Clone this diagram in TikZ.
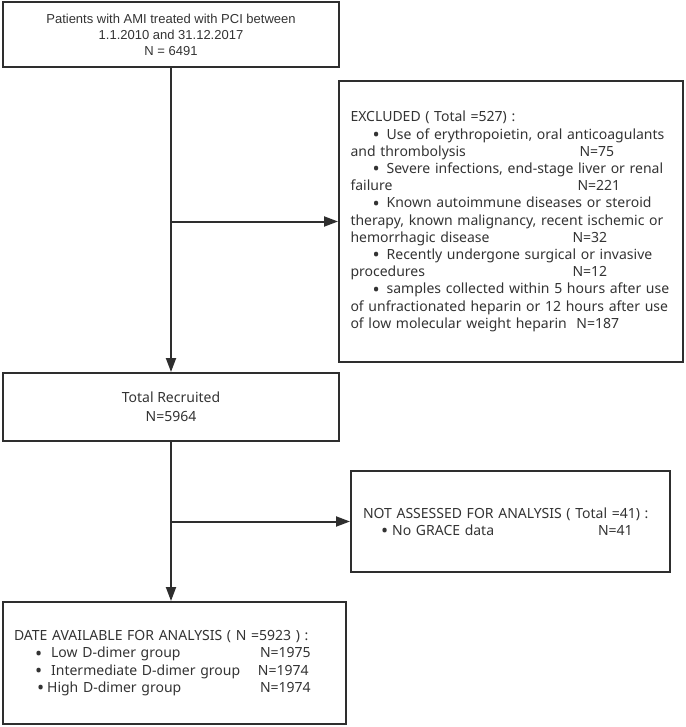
\documentclass[tikz,border=0pt]{standalone}
\usepackage{fontspec}
\setmainfont{Liberation Sans}
\newfontfamily\yahei{Noto Sans}
\usepackage{xcolor}
\usetikzlibrary{arrows.meta}
\definecolor{linegray}{HTML}{2E2E2E}
\definecolor{textgray}{HTML}{333333}
\tikzset{
  ar/.style={-{Triangle[length=14pt,width=10pt]},line width=2pt,linegray},
  box/.style={draw=linegray,line width=2pt,inner sep=0pt,text=textgray},
  listbox/.style={box,align=left,font=\yahei\fontsize{14}{17.2}\selectfont}
}
% item line: indent, gap after the bullet, label
\newcommand{\itm}[3]{\hspace*{#1pt}\raisebox{-2.4pt}[0pt][0pt]{\fontsize{19}{17}\selectfont\textbullet}\hspace{#2pt}#3}
% fixed column for the count
\newcommand{\cnt}[3]{\makebox[#1pt][l]{#2}#3}

\begin{document}
\begin{tikzpicture}[x=1pt,y=-1pt]
\useasboundingbox (0,0) rectangle (685,727);
\node[box,minimum width=336pt,minimum height=65pt,align=center,
  font=\fontsize{13}{16}\selectfont] (patients) at (171,34.5)
  {Patients with AMI treated with PCI between\\1.1.2010 and 31.12.2017\\N = 6491};
\node[listbox,minimum width=344pt,minimum height=281pt,text width=321pt] (excluded) at (511,221.5)
  {EXCLUDED ( Total =527) :\\
   \itm{22}{7}{Use of erythropoietin, oral anticoagulants}\\
   \cnt{229}{and thrombolysis}{N=75}\\
   \itm{22}{7}{Severe infections, end-stage liver or renal}\\
   \cnt{227}{failure}{N=221}\\
   \itm{22}{7}{Known autoimmune diseases or steroid}\\
   therapy, known malignancy, recent ischemic or\\
   \cnt{222}{hemorrhagic disease}{N=32}\\
   \itm{22}{7}{Recently undergone surgical or invasive}\\
   \cnt{222}{procedures}{N=12}\\
   \itm{22}{7}{samples collected within 5 hours after use}\\
   of unfractionated heparin or 12 hours after use\\
   \cnt{226}{of low molecular weight heparin}{N=187}};
\node[box,minimum width=336pt,minimum height=68pt,align=center,
  font=\yahei\fontsize{14}{19}\selectfont] (recruited) at (171,407)
  {Total Recruited\\N=5964};
\node[listbox,minimum width=319pt,minimum height=101pt,text width=295pt] (notassessed) at (510.5,521.5)
  {NOT ASSESSED FOR ANALYSIS ( Total =41) :\\
   \cnt{235}{\itm{18}{4}{No GRACE data}}{N=41}};
\node[listbox,minimum width=343pt,minimum height=122pt,text width=321pt] (available) at (174.5,663)
  {DATE AVAILABLE FOR ANALYSIS ( N =5923 ) :\\
   \cnt{246}{\itm{21}{9}{Low D-dimer group}}{N=1975}\\
   \cnt{244}{\itm{21}{9}{Intermediate D-dimer group}}{N=1974}\\
   \cnt{246}{\itm{23}{3}{High D-dimer group}}{N=1974}};
\draw[ar] (patients.south) -- (recruited.north);
\draw[ar] (patients.south |- excluded.west) -- (excluded.west);
\draw[ar] (recruited.south) -- (recruited.south |- available.north);
\draw[ar] (recruited.south |- notassessed.west) -- (notassessed.west);
\end{tikzpicture}
\end{document}
